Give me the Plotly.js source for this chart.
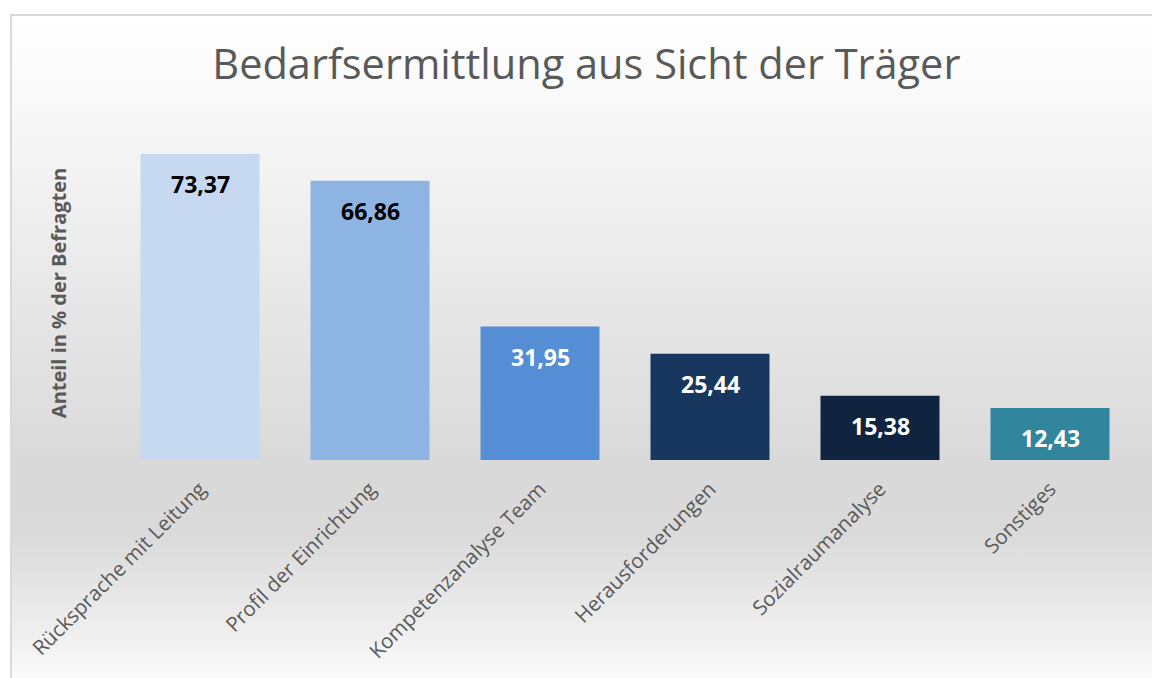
<!DOCTYPE html>
<html>
<head>
<meta charset="utf-8">
<script src="https://cdn.plot.ly/plotly-3.0.1.min.js"></script>
<style>
  html, body { margin: 0; padding: 0; background: #ffffff; }
  #frame {
    position: absolute; left: 0; top: 0; width: 1152px; height: 678px;
    overflow: hidden; background: #ffffff;
  }
  #bg {
    position: absolute; left: 10px; top: 14px; width: 1142px; height: 664px;
    border-top: 2px solid #d9d9d9; border-left: 2px solid #d9d9d9;
    box-sizing: border-box;
    background: linear-gradient(to bottom, #ffffff 0%, #f8f8f8 14%, #e6e6e6 45%, #d9d9d9 68%, #dadada 78%, #f0f0f0 94%, #fbfbfb 100%);
  }
  #chart { position: absolute; left: 0; top: 0; width: 1152px; height: 678px; }
</style>
</head>
<body>
<div id="frame">
  <div id="bg"></div>
  <div id="chart"></div>
</div>
<script>
const categories = ["Rücksprache mit Leitung", "Profil der Einrichtung", "Kompetenzanalyse Team", "Herausforderungen", "Sozialraumanalyse", "Sonstiges"];
const values = [73.37, 66.86, 31.95, 25.44, 15.38, 12.43];
const valueLabels = ["73,37", "66,86", "31,95", "25,44", "15,38", "12,43"];
const barColors = ["#C6D9F1", "#8EB4E3", "#558ED5", "#17375E", "#10243F", "#31859C"];
const labelColors = ["#000000", "#000000", "#ffffff", "#ffffff", "#ffffff", "#ffffff"];

const trace = {
  type: "bar",
  x: categories,
  y: values,
  marker: { color: barColors, line: { width: 0 } },
  width: 0.7,
  hoverinfo: "skip"
};

const annotations = categories.map((c, i) => ({
  x: c, y: values[i], xref: "x", yref: "y",
  text: "<b>" + valueLabels[i] + "</b>",
  showarrow: false, yanchor: "middle", yshift: -30,
  font: { family: "Open Sans, sans-serif", size: 23, color: labelColors[i] }
}));

const layout = {
  width: 1152, height: 678,
  paper_bgcolor: "rgba(0,0,0,0)",
  plot_bgcolor: "rgba(0,0,0,0)",
  margin: { l: 115, r: 17, t: 126, b: 218 },
  showlegend: false,
  title: {
    text: "Bedarfsermittlung aus Sicht der Träger",
    xref: "container", x: 0.509, xanchor: "center", y: 0.905, yanchor: "middle",
    font: { family: "Open Sans, sans-serif", size: 41.5, color: "#595959" }
  },
  xaxis: {
    type: "category",
    tickangle: -45,
    ticks: "",
    ticklabelstandoff: 12,
    showline: false,
    showgrid: false,
    zeroline: false,
    tickfont: { family: "Open Sans, sans-serif", size: 20.5, color: "#595959" }
  },
  yaxis: {
    range: [0, 80],
    showticklabels: false,
    ticks: "",
    showgrid: false,
    zeroline: false,
    showline: false,
    title: {
      text: "<b>Anteil in % der Befragten</b>",
      standoff: 42,
      font: { family: "Open Sans, sans-serif", size: 20, color: "#595959" }
    }
  },
  annotations: annotations
};

Plotly.newPlot("chart", [trace], layout, { displayModeBar: false, staticPlot: true });
</script>
</body>
</html>
